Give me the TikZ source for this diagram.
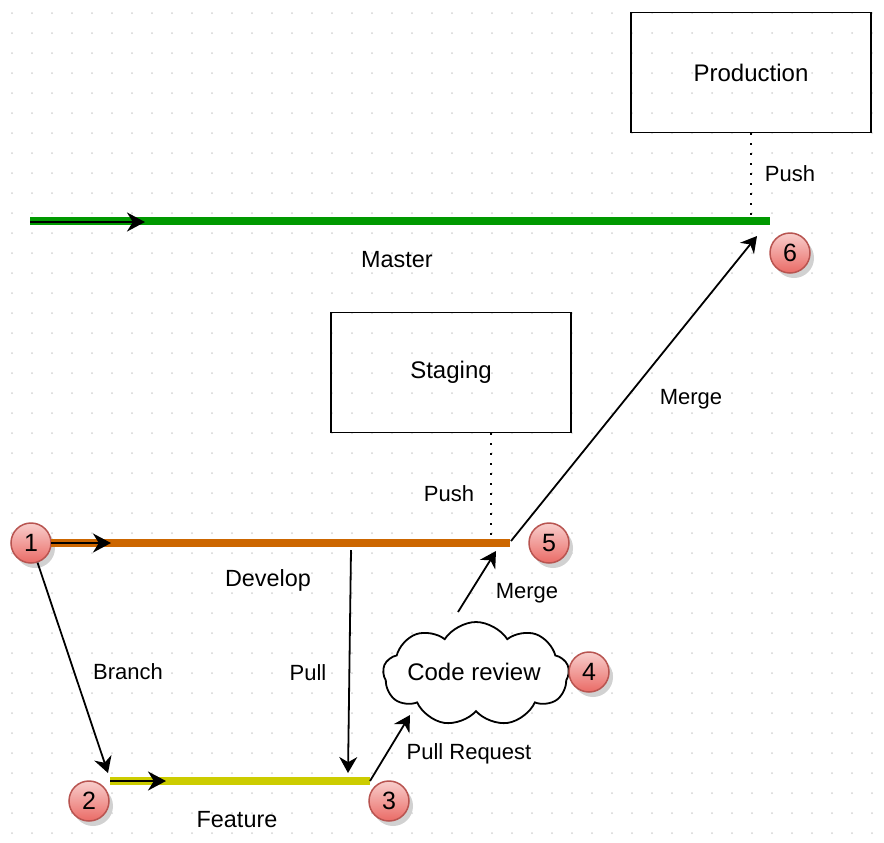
\documentclass[tikz,border=0pt]{standalone}
\usepackage{fontspec}
\setmainfont{Liberation Sans}
\usetikzlibrary{shapes.symbols,arrows.meta,shadows}
\definecolor{mgreen}{HTML}{009900}
\definecolor{dorange}{HTML}{CC6600}
\definecolor{fyellow}{HTML}{CCCC00}
\definecolor{cfillA}{HTML}{F8CECC}
\definecolor{cfillB}{HTML}{EA6B66}
\definecolor{cborder}{HTML}{B85450}
\definecolor{griddot}{HTML}{D4D4D4}
\begin{document}
\begin{tikzpicture}[x=0.5pt,y=-0.5pt,
  box/.style={draw, line width=0.75pt, minimum width=120pt, minimum height=60pt, inner sep=0, font=\fontsize{12}{14}\selectfont},
  lbl/.style={inner sep=0, font=\fontsize{11}{13}\selectfont},
  blbl/.style={inner sep=0, font=\fontsize{11.7}{14}\selectfont},
  branchline/.style={line width=4pt},
  arr/.style={draw=black, line width=0.9pt, -{Stealth[length=8pt,width=9pt]}},
  barr/.style={draw=black, line width=1.3pt, -{Stealth[length=9pt,width=9.5pt]}},
  dotline/.style={line width=1pt, dash pattern=on 1pt off 4pt},
  badge/.style={circle, draw=cborder, line width=0.75pt, top color=cfillA, bottom color=cfillB, minimum size=20pt, inner sep=0, font=\fontsize{12.5}{14}\selectfont, drop shadow={shadow xshift=2pt, shadow yshift=-2.5pt, fill=black!18, opacity=1}},
  cloudbox/.style={cloud, draw, cloud puffs=9, cloud puff arc=115, aspect=1.8, minimum width=93pt, minimum height=52pt, line width=0.9pt, fill=white, inner sep=0}
]
\useasboundingbox (0,0) rectangle (884,842);
\fill[white] (0,0) rectangle (884,842);
\foreach \i in {0,...,43} \foreach \j in {0,...,41} \fill[griddot] (12+20*\i,13+20*\j) circle[radius=0.5pt];

% boxes
\node[box] (prod) at (751,72.5) {Production};
\node[box] (stag) at (451,372.5) {Staging};

% badges
\node[badge] (c1) at (31,543) {1};
\node[badge] (c2) at (89,801) {2};
\node[badge] (c3) at (389,801) {3};
\node[badge] (c5) at (549,543) {5};
\node[badge] (c6) at (790,253) {6};

% master
\coordinate (m0) at (30,221);
\coordinate (m1) at (770,221);
\coordinate (ma) at (145,222);
\coordinate (m0b) at (30,222);
\coordinate (mp) at (751,221);
\draw[branchline, mgreen] (m0) -- (m1);
\draw[barr] (m0b) -- (ma);
\draw[dotline] (prod.south) -- (mp);

% develop
\coordinate (d0) at (51,543);
\coordinate (d1) at (510,543);
\coordinate (da) at (111,543);
\coordinate (dp) at (491,543);
\draw[branchline, dorange] (d0) -- (d1);
\draw[barr] (d0) -- (da);
\draw[dotline] (stag.south -| dp) -- (dp);

% feature
\coordinate (f0) at (110,781);
\coordinate (f1) at (370,781);
\coordinate (fa) at (166,781);
\draw[branchline, fyellow] (f0) -- (f1);
\draw[barr] (f0) -- (fa);

% cloud
\node[cloudbox] (cr) at (476,674) {};
\node[inner sep=0, font=\fontsize{12}{14}\selectfont] (crt) at (474,672) {Code review};
\node[badge] (c4) at (589,672) {4};

% connectors
\coordinate (bt) at (108,773);
\draw[arr] (c1) -- (bt);
\coordinate (p0) at (351,550);
\coordinate (p1) at (348,773);
\draw[arr] (p0) -- (p1);
\coordinate (pr1) at (410,715);
\draw[arr] (f1) -- (pr1);
\coordinate (mg0) at (458,612);
\coordinate (mg1) at (496,551);
\draw[arr] (mg0) -- (mg1);
\coordinate (mm0) at (511,541);
\coordinate (mm1) at (757,236);
\draw[arr] (mm0) -- (mm1);

% labels
\node[blbl] (lmaster) at (397,260) {Master};
\node[blbl] (ldevelop) at (268,580) {Develop};
\node[blbl] (lfeature) at (237,820) {Feature};
\node[lbl] (lpush1) at (790,174) {Push};
\node[lbl] (lpush2) at (449,494) {Push};
\node[lbl] (lmerge1) at (691,399) {Merge};
\node[lbl] (lmerge2) at (527,593) {Merge};
\node[lbl] (lbranch) at (128,672) {Branch};
\node[lbl] (lpull) at (308,673) {Pull};
\node[lbl] (lpr) at (469,754) {Pull Request};
\end{tikzpicture}
\end{document}
